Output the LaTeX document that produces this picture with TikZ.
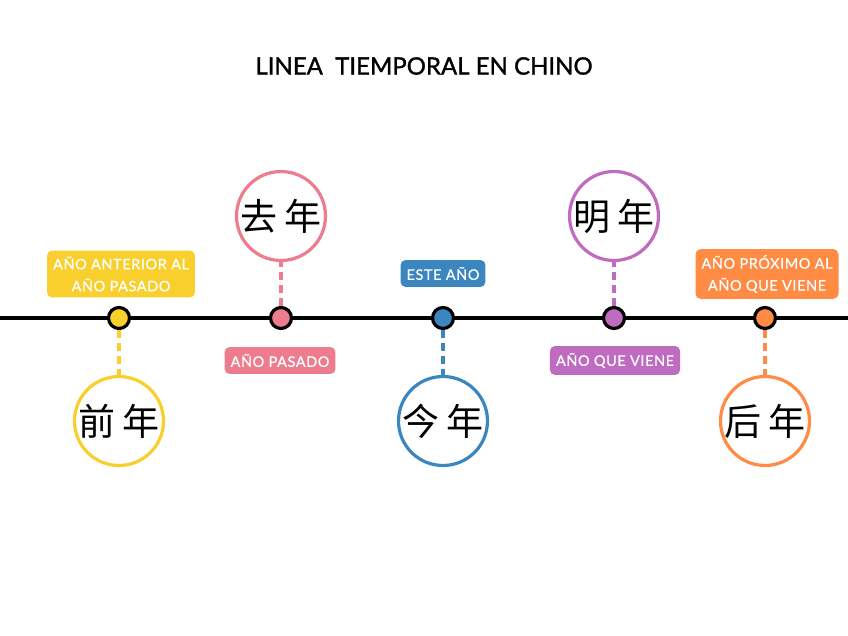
\documentclass[tikz,border=0pt]{standalone}
\usepackage{fontspec}
\setmainfont{Lato}
\newfontfamily\cjk{Noto Sans CJK SC}
\newfontfamily\tagfont[LetterSpace=4,FakeBold=0.6]{Lato}
\newfontfamily\titlefont[FakeBold=1.2]{Lato}
\definecolor{cyel}{HTML}{F9CF2E}
\definecolor{cpink}{HTML}{EE7C8F}
\definecolor{cblue}{HTML}{3C86BF}
\definecolor{cpurp}{HTML}{BF6BBF}
\definecolor{corg}{HTML}{FF8B45}
\tikzset{
  dot/.style={circle, draw=black, line width=3.2pt, fill=#1, minimum size=21pt, inner sep=0pt},
  yearc/.style={circle, draw=#1, line width=3.2pt, fill=white, minimum size=89pt, inner sep=0pt, font=\cjk\fontsize{37}{40}\selectfont},
  tag/.style={rounded corners=5pt, fill=#1, text=white, font=\tagfont\fontsize{14.5}{22}\selectfont, align=center, inner xsep=6pt, inner ysep=7pt},
  tagtwo/.style={tag=#1, inner ysep=6pt},
  stem/.style={draw=#1, line width=3.2pt, dash pattern=on 8pt off 5pt},
}
\begin{document}
\begin{tikzpicture}[x=1pt,y=-1pt]
\useasboundingbox (0,0) rectangle (848,636);
\node[font=\titlefont\fontsize{24}{28}\selectfont] (title) at (424,66) {LINEA\ \ TIEMPORAL EN CHINO};
\coordinate (L) at (0,318);
\coordinate (R) at (848,318);
\draw[line width=3.2pt] (L) -- (R);
% circles
\node[yearc=cyel] (c1) at (119,421) {前\hspace{7pt}年};
\node[yearc=cpink] (c2) at (281,216) {去\hspace{7pt}年};
\node[yearc=cblue] (c3) at (443,421) {今\hspace{7pt}年};
\node[yearc=cpurp] (c4) at (614,216) {明\hspace{7pt}年};
\node[yearc=corg] (c5) at (765,421) {后\hspace{7pt}年};
% dots
\node[dot=cyel] (d1) at (119,318) {};
\node[dot=cpink] (d2) at (281,318) {};
\node[dot=cblue] (d3) at (443,318) {};
\node[dot=cpurp] (d4) at (614,318) {};
\node[dot=corg] (d5) at (765,318) {};
\draw[stem=cyel] (d1) -- (c1);
\draw[stem=cpink] (d2) -- (c2);
\draw[stem=cblue] (d3) -- (c3);
\draw[stem=cpurp] (d4) -- (c4);
\draw[stem=corg] (d5) -- (c5);
% tags
\node[tagtwo=cyel] (t1) at (121,274) {AÑO ANTERIOR AL\\AÑO PASADO};
\node[tag=cpink] (t2) at (280,360.5) {AÑO PASADO};
\node[tag=cblue] (t3) at (443,273.5) {ESTE AÑO};
\node[tag=cpurp] (t4) at (615,360.5) {AÑO QUE VIENE};
\node[tagtwo=corg] (t5) at (767,274) {AÑO PRÓXIMO AL\\AÑO QUE VIENE};
\end{tikzpicture}
\end{document}
